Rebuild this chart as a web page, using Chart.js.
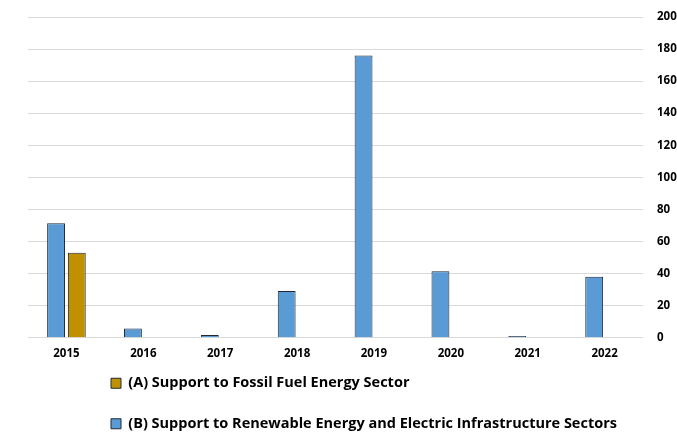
<!DOCTYPE html>
<html>
<head>
<meta charset="utf-8">
<script src="https://cdn.jsdelivr.net/npm/chart.js@4"></script>
<style>
html,body{margin:0;padding:0;background:#fff;}
#wrap{width:677px;height:433px;position:relative;}
</style>
</head>
<body>
<div id="wrap"><canvas id="c" width="677" height="433"></canvas></div>
<script>
const categories = ['2015','2016','2017','2018','2019','2020','2021','2022'];
const fossilLabel = '(A) Support to Fossil Fuel Energy Sector';
const renewLabel = '(B) Support to Renewable Energy and Electric Infrastructure Sectors';
const fossilValues = [53, null, null, null, null, null, null, null];
const renewValues = [71.4, 5.7, 1.7, 29.2, 176, 41.4, 1.0, 38];
const yTicks = { min: 0, max: 200, step: 20 };

const FONT = '"Open Sans", "Noto Sans", sans-serif';

const legendShift = {
  id: 'legendShift',
  beforeLayout(chart) {
    const lg = chart.legend;
    if (!lg || lg._patched) return;
    const origFit = lg.fit.bind(lg);
    lg.fit = function () {
      origFit();
      this.height = 63.5;
    };
    lg._patched = true;
  },
  afterLayout(chart) {
    const lg = chart.legend;
    if (!lg) return;
    const dx = 57;
    lg.left += dx; lg.right += dx;
    const newTop = 350;
    lg.top = newTop; lg.bottom = 433;
    lg.height = lg.bottom - lg.top;
  }
};

new Chart(document.getElementById('c'), {
  type: 'bar',
  data: {
    labels: categories,
    datasets: [
      { label: renewLabel, data: renewValues, backgroundColor: '#5B9BD5', borderColor: '#1f2a36', borderWidth: 1 },
      { label: fossilLabel, data: fossilValues, backgroundColor: '#BF9000', borderColor: '#1f2a36', borderWidth: 1 }
    ]
  },
  options: {
    responsive: false,
    animation: false,
    datasets: { bar: { categoryPercentage: 0.54, barPercentage: 0.86 } },
    layout: { padding: { left: 28, right: 0, top: 17, bottom: 0 } },
    scales: {
      x: {
        grid: { display: false, drawTicks: false },
        border: { display: false },
        ticks: { color: '#000', padding: 9, font: { family: FONT, size: 11.5, weight: 'bold' } }
      },
      y: {
        position: 'right',
        min: yTicks.min, max: yTicks.max,
        afterFit(scale) { scale.width = 34; scale.paddingTop = 0; },
        grid: { color: '#d9d9d9', drawTicks: false, lineWidth: 1 },
        border: { display: false },
        ticks: { stepSize: yTicks.step, color: '#000', padding: 14, font: { family: FONT, size: 11.5, weight: 'bold' } }
      }
    },
    plugins: {
      tooltip: { enabled: false },
      legend: {
        position: 'bottom',
        align: 'start',
        reverse: true,
        labels: {
          color: '#000',
          boxWidth: 10, boxHeight: 10,
          padding: 26,
          font: { family: FONT, size: 14.5, weight: 'bold' }
        }
      }
    }
  },
  plugins: [legendShift]
});
</script>
</body>
</html>
